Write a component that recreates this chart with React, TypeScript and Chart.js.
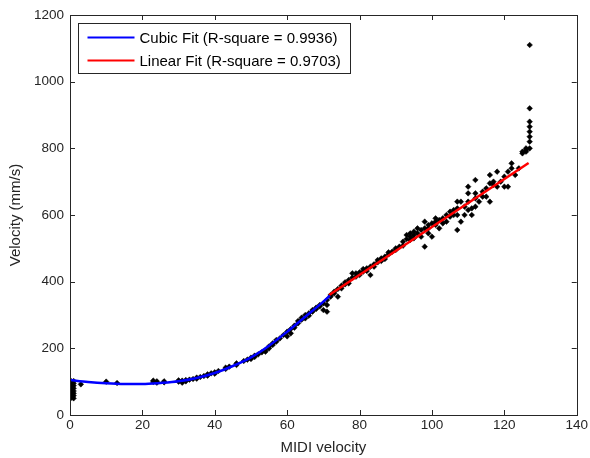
import React, { useEffect, useRef } from "react";
import { Chart, registerables } from "chart.js";

Chart.register(...registerables);

const xTicks = [0, 20, 40, 60, 80, 100, 120, 140];
const yTicks = [0, 200, 400, 600, 800, 1000, 1200];

const legendLabels = [
  "Cubic Fit (R-square = 0.9936)",
  "Linear Fit (R-square = 0.9703)",
];

const cubicFitX = [0, 5, 10, 15, 20, 25, 30, 35, 40, 45, 50, 55, 60, 65, 70, 71.8];
const cubicFitY = [105, 99, 95, 93, 93, 96, 101, 111, 126, 147, 173, 208, 250, 295, 340, 358];

const linearFitX = [71.6, 126.7];
const linearFitY = [360, 756];

const pointMidi = [
  0, 0, 0, 0, 0, 0, 0, 0, 0, 0, 0, 0, 0, 0, 0,
  1, 1, 1, 1, 1, 1, 1, 1,
  3, 10, 13,
  23, 23, 24, 24, 26, 26, 30, 30, 31, 31, 32, 32, 33, 34, 35, 35, 36, 37, 38, 38, 39, 40, 40, 41,
  43, 43, 44, 46, 46, 48, 49, 50, 50, 51, 51, 52, 53, 54, 54, 55, 55, 56, 56, 57, 57, 58, 59,
  60, 60, 61, 61, 62, 62, 63, 63, 64, 64, 65, 65, 66, 66, 67, 67, 68, 68, 69, 69, 70, 70, 71, 71, 71, 72, 72,
  73, 73, 74, 74, 75, 75, 76, 76, 77, 77, 78, 78, 79, 79, 80, 80, 81, 81, 82, 82, 83, 83, 84, 84,
  85, 85, 86, 86, 87, 87, 88, 88, 89, 90, 90, 91, 92, 92, 93, 93, 94, 94, 94, 95, 95, 95, 96, 96,
  97, 97, 98, 98, 98, 99, 99, 99, 100, 100, 101, 101, 101, 102, 102, 103, 103, 104, 104, 105, 105,
  106, 106, 107, 107, 107, 107, 108, 108, 109, 109, 110, 110, 110, 110, 111, 111, 112, 112, 112, 112,
  113, 114, 114, 115, 115, 116, 116, 116, 117, 117, 118, 118, 119, 120, 120, 121, 121, 122, 122,
  123, 124, 125, 125, 126, 126, 126, 127, 127, 127, 127, 127, 127, 127, 127,
];
const pointVelocity = [
  105, 100, 96, 92, 88, 84, 80, 76, 72, 68, 64, 60, 56, 52, 48,
  102, 95, 88, 80, 72, 65, 58, 50,
  92, 100, 96,
  103, 99, 101, 97, 101, 98, 104, 100, 103, 97, 105, 101, 106, 108, 112, 109, 114, 117, 122, 118, 125, 128, 124, 132,
  138, 142, 145, 155, 150, 162, 166, 172, 168, 178, 174, 182, 188, 195, 190, 200, 206, 210, 215, 220, 225, 230, 240,
  236, 250, 258, 245, 262, 268, 275, 282, 286, 292, 290, 300, 305, 298, 315, 310, 322, 318, 330, 326, 315, 335, 310, 345, 330, 355, 360,
  370, 365, 355, 378, 388, 380, 398, 392, 405, 395, 425, 412, 425, 415, 420, 428, 430, 438, 440, 432, 420, 445, 452, 445,
  465, 458, 470, 462, 475, 468, 482, 488, 490, 500, 495, 505, 520, 508, 540, 528, 535, 525, 545, 550, 530, 540, 545, 560,
  535, 555, 560, 505, 580, 560, 545, 570, 535, 575, 590, 570, 580, 585, 560, 590, 575, 600, 580, 610, 595,
  615, 600, 640, 600, 555, 620, 640, 580, 625, 600, 685, 665, 615, 640, 600, 620, 705, 665, 625, 650,
  640, 655, 670, 655, 680, 720, 695, 640, 690, 700, 730, 685, 700, 715, 685, 730, 685, 755, 740,
  720, 740, 790, 785, 795, 800, 790, 1110, 920, 880, 865, 850, 835, 820, 800,
];

const FONT = "'Liberation Sans', Arial, sans-serif";

const boxTicksPlugin = {
  id: "boxTicks",
  afterDraw(chart: any) {
    const { ctx, chartArea, scales } = chart;
    const { left, right, top, bottom } = chartArea;
    const len = 5;
    ctx.save();
    ctx.strokeStyle = "#262626";
    ctx.lineWidth = 1;
    ctx.beginPath();
    xTicks.forEach((v) => {
      const px = Math.round(scales.x.getPixelForValue(v)) + 0.5;
      ctx.moveTo(px, bottom);
      ctx.lineTo(px, bottom - len);
      ctx.moveTo(px, top);
      ctx.lineTo(px, top + len);
    });
    yTicks.forEach((v) => {
      const py = Math.round(scales.y.getPixelForValue(v)) + 0.5;
      ctx.moveTo(left, py);
      ctx.lineTo(left + len, py);
      ctx.moveTo(right, py);
      ctx.lineTo(right - len, py);
    });
    ctx.stroke();
    ctx.strokeRect(Math.round(left) + 0.5, Math.round(top) + 0.5, Math.round(right - left), Math.round(bottom - top));

    // legend
    ctx.font = `15px ${FONT}`;
    const tw = Math.max(...legendLabels.map((t) => ctx.measureText(t).width));
    const bx = Math.round(left) + 8.5;
    const by = Math.round(top) + 8.5;
    const bw = Math.round(61 + tw + 10);
    const bh = 50;
    ctx.fillStyle = "#ffffff";
    ctx.fillRect(bx, by, bw, bh);
    ctx.strokeStyle = "#262626";
    ctx.strokeRect(bx, by, bw, bh);
    const colors = ["#0000ff", "#ff0000"];
    legendLabels.forEach((t, i) => {
      const cy = by + 14 + i * 23;
      ctx.strokeStyle = colors[i];
      ctx.lineWidth = 2;
      ctx.beginPath();
      ctx.moveTo(bx + 9, cy);
      ctx.lineTo(bx + 56, cy);
      ctx.stroke();
      ctx.fillStyle = "#000000";
      ctx.textBaseline = "middle";
      ctx.textAlign = "left";
      ctx.fillText(t, bx + 61, cy + 1);
    });
    ctx.restore();
  },
};

export default function App() {
  const ref = useRef<HTMLCanvasElement | null>(null);
  useEffect(() => {
    document.body.style.margin = "0";
    const canvas = ref.current;
    if (!canvas) return;
    const scatter = pointMidi.map((x, i) => ({ x, y: pointVelocity[i] }));
    const cubic = cubicFitX.map((x, i) => ({ x, y: cubicFitY[i] }));
    const linear = linearFitX.map((x, i) => ({ x, y: linearFitY[i] }));
    const chart = new Chart(canvas, {
      type: "scatter",
      data: {
        datasets: [
          {
            label: legendLabels[0],
            data: cubic,
            showLine: true,
            borderColor: "#0000ff",
            borderWidth: 2.5,
            pointRadius: 0,
            cubicInterpolationMode: "monotone",
          } as any,
          {
            label: legendLabels[1],
            data: linear,
            showLine: true,
            borderColor: "#ff0000",
            borderWidth: 2.5,
            pointRadius: 0,
          } as any,
          {
            label: "data",
            data: scatter,
            pointStyle: "rectRot",
            pointRadius: 2.8,
            backgroundColor: "#000000",
            borderColor: "#000000",
            borderWidth: 0.5,
          },
        ],
      },
      options: {
        animation: false,
        responsive: false,
        layout: { padding: { top: 15, right: 13, left: 0, bottom: 0 } },
        plugins: { legend: { display: false }, tooltip: { enabled: false } },
        scales: {
          x: {
            type: "linear",
            min: 0,
            max: 140,
            afterBuildTicks: (s: any) => {
              s.ticks = xTicks.map((v) => ({ value: v }));
            },
            afterFit: (s: any) => {
              s.height = 43;
            },
            grid: { display: false, drawTicks: false },
            border: { display: false },
            ticks: {
              color: "#262626",
              font: { family: FONT, size: 13.5 },
              padding: 2,
              maxRotation: 0,
              callback: (v: any) => String(v),
            },
            title: {
              display: true,
              text: "MIDI velocity",
              color: "#262626",
              font: { family: FONT, size: 15 },
              padding: { top: 0, bottom: 1 },
            },
          },
          y: {
            type: "linear",
            min: 0,
            max: 1200,
            afterBuildTicks: (s: any) => {
              s.ticks = yTicks.map((v) => ({ value: v }));
            },
            afterFit: (s: any) => {
              s.width = 70;
            },
            grid: { display: false, drawTicks: false },
            border: { display: false },
            ticks: {
              color: "#262626",
              font: { family: FONT, size: 13.5 },
              padding: 6,
              callback: (v: any) => String(v),
            },
            title: {
              display: true,
              text: "Velocity (mm/s)",
              color: "#262626",
              font: { family: FONT, size: 15 },
              padding: { top: 7, bottom: 0 },
            },
          },
        },
      },
      plugins: [boxTicksPlugin],
    });
    return () => chart.destroy();
  }, []);
  return (
    <div style={{ position: "absolute", left: 0, top: 0, width: 590, height: 458, background: "#fff" }}>
      <canvas ref={ref} width={590} height={458} style={{ display: "block" }} />
    </div>
  );
}
